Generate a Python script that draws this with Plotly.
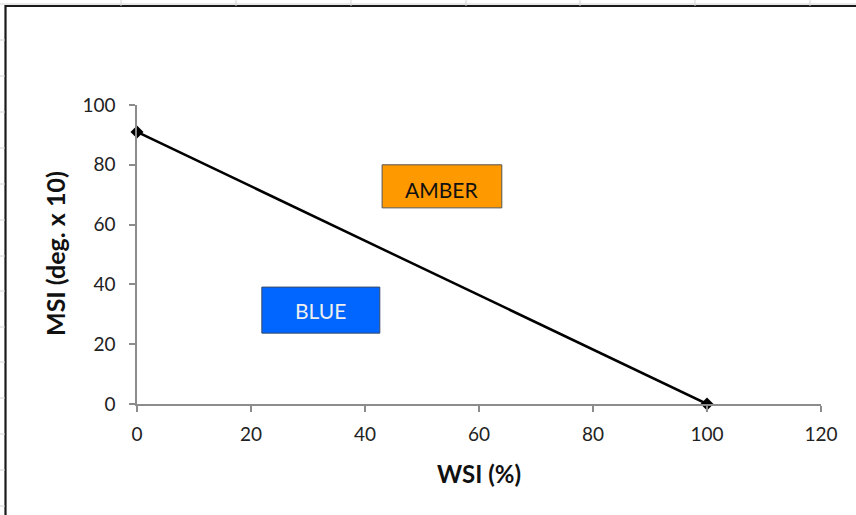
import plotly.graph_objects as go

# Data
wsi = [0, 100]
msi = [91, 0]
x_ticks = [0, 20, 40, 60, 80, 100, 120]
y_ticks = [0, 20, 40, 60, 80, 100]
region_labels = ["AMBER", "BLUE"]

W, H = 856, 515
L, R, T, B = 137, 821, 105, 404  # plot area in pixels

def px(x):
    return (x - L) / (R - L)

def py(y):
    return (B - y) / (B - T)

FONT = "Lato"

fig = go.Figure()
fig.add_trace(go.Scatter(
    x=wsi, y=msi, mode="lines+markers",
    line=dict(color="black", width=2.5),
    marker=dict(symbol="diamond", size=10, color="black"),
    cliponaxis=False, showlegend=False, hoverinfo="skip",
))

shapes = []
# faint spreadsheet gridlines outside chart frame
for gx in [121, 236, 351, 466, 580, 695, 810]:
    shapes.append(dict(type="line", xref="paper", yref="paper",
                       x0=px(gx), x1=px(gx), y0=py(0), y1=py(6),
                       line=dict(color="#d4d4d4", width=1)))
for gy in [40, 76, 112, 148, 184, 220, 256, 291, 327, 362, 398, 434, 470, 506]:
    shapes.append(dict(type="line", xref="paper", yref="paper",
                       x0=px(0), x1=px(5), y0=py(gy), y1=py(gy),
                       line=dict(color="#d4d4d4", width=1)))
shapes.append(dict(type="line", xref="paper", yref="paper",
                   x0=px(0), x1=px(W), y0=py(4), y1=py(4),
                   line=dict(color="#d4d4d4", width=1)))
# chart frame
shapes.append(dict(type="rect", xref="paper", yref="paper",
                   x0=px(5.5), x1=px(W + 10), y0=py(6), y1=py(H + 10),
                   line=dict(color="#1a1a1a", width=2.2), fillcolor="rgba(0,0,0,0)",
                   layer="below"))
# region boxes
shapes.append(dict(type="rect", xref="x", yref="y", x0=43, x1=64, y0=65.6, y1=80,
                   fillcolor="#FF9900", line=dict(color="#555555", width=1)))
shapes.append(dict(type="rect", xref="x", yref="y", x0=21.9, x1=42.6, y0=23.7, y1=39.1,
                   fillcolor="#0066FF", line=dict(color="#3a4a66", width=1)))

annotations = [
    dict(x=53.5, y=71.9, xref="x", yref="y", text=region_labels[0], showarrow=False,
         xanchor="center", yanchor="middle",
         font=dict(family=FONT, size=21, color="#111111")),
    dict(x=32.25, y=31.2, xref="x", yref="y", text=region_labels[1], showarrow=False,
         xanchor="center", yanchor="middle",
         font=dict(family=FONT, size=21, color="#eeeeee")),
    dict(x=px(479), y=py(473), xref="paper", yref="paper", text="<b>WSI (%)</b>",
         xanchor="center", yanchor="middle",
         showarrow=False, font=dict(family=FONT, size=24, color="#111111")),
    dict(x=px(55), y=py(254), xref="paper", yref="paper", text="<b>MSI (deg. x 10)</b>",
         xanchor="center", yanchor="middle",
         textangle=-90, showarrow=False, font=dict(family=FONT, size=25, color="#111111")),
]

fig.update_layout(
    width=W, height=H,
    margin=dict(l=L, r=W - R, t=T, b=H - B, pad=0),
    paper_bgcolor="white", plot_bgcolor="white",
    shapes=shapes, annotations=annotations,
    xaxis=dict(range=[0, 120], tickvals=x_ticks, showgrid=False, zeroline=False,
               showline=True, linecolor="#8c8c8c", linewidth=1.5,
               ticks="outside", ticklen=6, tickcolor="#8c8c8c", tickwidth=1.5,
               tickfont=dict(family=FONT, size=19, color="#222222"),
               ticklabelstandoff=6),
    yaxis=dict(range=[0, 100], tickvals=y_ticks, showgrid=False, zeroline=False,
               showline=True, linecolor="#8c8c8c", linewidth=1.5,
               ticks="outside", ticklen=6, tickcolor="#8c8c8c", tickwidth=1.5,
               tickfont=dict(family=FONT, size=19, color="#222222"),
               ticklabelstandoff=10),
)

fig.write_html("out.html", config={"displayModeBar": False},
               post_script="document.body.style.margin='0';document.body.style.overflow='hidden';")
